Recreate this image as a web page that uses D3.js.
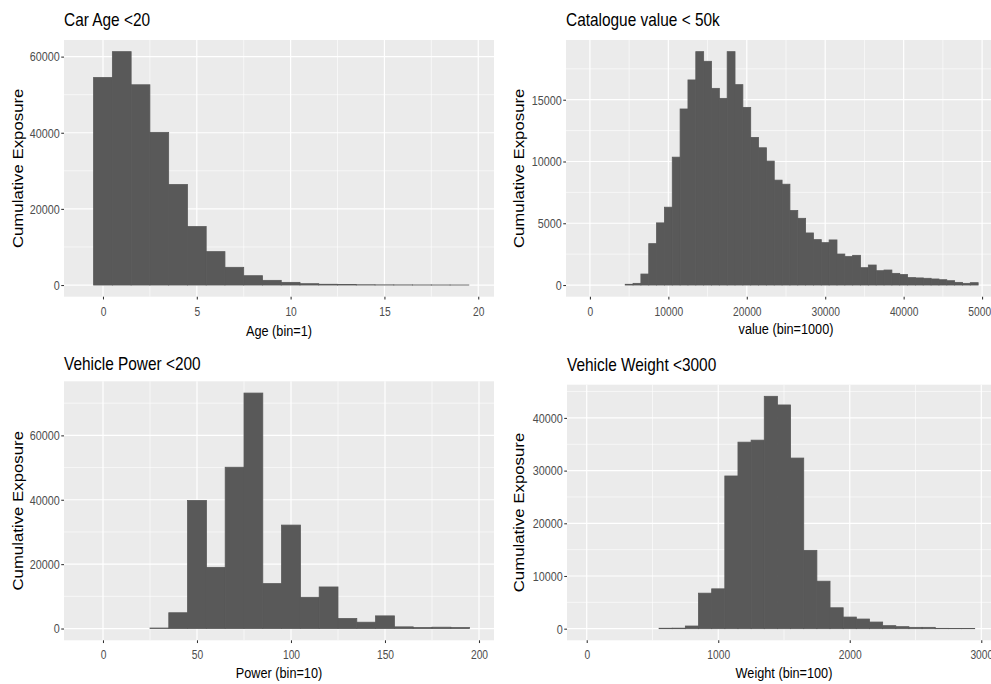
<!DOCTYPE html>
<html>
<head>
<meta charset="utf-8">
<script src="https://cdn.jsdelivr.net/npm/d3@7"></script>
<style>
  html, body { margin: 0; padding: 0; background: #fff; }
  svg { display: block; font-family: "Liberation Sans", Arial, Helvetica, sans-serif; }
</style>
</head>
<body>
<svg id="chart" width="991" height="684"></svg>
<script>
// Exposure histograms for four vehicle attributes (bins given by their centres)

const ageBins = d3.range(0, 20);
const ageExposure = [54500, 61300, 52600, 40100, 26400, 15350, 8770, 4650, 2450, 1230,
                     700, 350, 200, 120, 70, 40, 30, 20, 15, 10];
const ageTicks = [0, 5, 10, 15, 20];

const valueBins = d3.range(5000, 50000, 1000);
const valueExposure = [60, 135, 890, 3350, 5030, 6300, 10350, 14250, 16600, 18890,
                       18110, 15920, 15110, 18890, 16220, 14380, 11950, 11110, 10030, 8490,
                       8160, 6030, 5400, 4215, 3675, 3430, 3650, 2510, 2300, 2405,
                       1405, 1620, 1160, 1215, 945, 850, 600, 575, 545, 490,
                       430, 350, 215, 135, 190];
const valueTicks = [0, 10000, 20000, 30000, 40000, 50000];

const powerBins = d3.range(30, 200, 10);
const powerExposure = [150, 4900, 39770, 19000, 50100, 73140, 13950, 32130, 9710, 12910,
                       3100, 1960, 3925, 515, 310, 410, 310];
const powerTicks = [0, 50, 100, 150, 200];

const weightBins = d3.range(600, 3000, 100);
const weightExposure = [80, 100, 504, 6740, 7560, 28980, 35400, 35780, 44100, 42460,
                        32380, 14870, 9010, 3970, 2205, 1830, 1260, 570, 380, 250,
                        250, 60, 40, 30];
const weightTicks = [0, 1000, 2000, 3000];

const svg = d3.select("#chart");

const PANEL_BG = "#EBEBEB";
const BAR_FILL = "#595959";
const TICK_TXT = "#4D4D4D";
const SQUEEZE = 0.82;

function drawPanel(p) {
  const x = d3.scaleLinear().domain(p.xDomain).range([p.left, p.right]);
  const ymax = d3.max(p.values);
  const y = d3.scaleLinear().domain([-0.05 * ymax, 1.05 * ymax]).range([p.bottom, p.top]);

  const g = svg.append("g");

  g.append("rect")
    .attr("x", p.left).attr("y", p.top)
    .attr("width", p.right - p.left).attr("height", p.bottom - p.top)
    .attr("fill", PANEL_BG);

  // minor grid
  g.selectAll(null).data(p.xMinor).join("line")
    .attr("x1", d => x(d)).attr("x2", d => x(d))
    .attr("y1", p.top).attr("y2", p.bottom)
    .attr("stroke", "#fff").attr("stroke-width", 0.6);
  g.selectAll(null).data(p.yMinor).join("line")
    .attr("x1", p.left).attr("x2", p.right)
    .attr("y1", d => y(d)).attr("y2", d => y(d))
    .attr("stroke", "#fff").attr("stroke-width", 0.6);
  // major grid
  g.selectAll(null).data(p.xTicks).join("line")
    .attr("x1", d => x(d)).attr("x2", d => x(d))
    .attr("y1", p.top).attr("y2", p.bottom)
    .attr("stroke", "#fff").attr("stroke-width", 1.2);
  g.selectAll(null).data(p.yTicks).join("line")
    .attr("x1", p.left).attr("x2", p.right)
    .attr("y1", d => y(d)).attr("y2", d => y(d))
    .attr("stroke", "#fff").attr("stroke-width", 1.2);

  // bars (a thin stroke of the fill colour hides seams between neighbours)
  const hw = p.binWidth / 2;
  g.selectAll(null).data(p.bins.map((b, i) => ({ b, v: p.values[i] }))).join("rect")
    .attr("x", d => x(d.b - hw))
    .attr("width", d => x(d.b + hw) - x(d.b - hw))
    .attr("y", d => y(d.v))
    .attr("height", d => y(0) - y(d.v))
    .attr("fill", BAR_FILL)
    .attr("stroke", BAR_FILL).attr("stroke-width", 0.8);

  // x axis
  const xa = g.append("g").attr("transform", `translate(0,${p.bottom})`)
    .call(d3.axisBottom(x).tickValues(p.xTicks).tickFormat(d3.format("d")).tickSize(2.75).tickPadding(2));
  xa.select(".domain").remove();
  xa.selectAll(".tick line").attr("stroke", "#333").attr("stroke-width", 1.07);
  xa.selectAll(".tick text")
    .attr("y", 19).attr("dy", null)
    .attr("transform", `scale(${SQUEEZE},1)`)
    .attr("fill", TICK_TXT).style("font-size", "12.5px").style("font-family", "Liberation Sans, Arial, sans-serif");

  // y axis
  const ya = g.append("g").attr("transform", `translate(${p.left},0)`)
    .call(d3.axisLeft(y).tickValues(p.yTicks).tickFormat(d3.format("d")).tickSize(2.75).tickPadding(2));
  ya.select(".domain").remove();
  ya.selectAll(".tick line").attr("stroke", "#333").attr("stroke-width", 1.07);
  ya.selectAll(".tick text")
    .attr("x", -4.2 / 0.9).attr("dy", "0.36em")
    .attr("transform", "scale(0.9,1)")
    .attr("fill", TICK_TXT).style("font-size", "12px").style("font-family", "Liberation Sans, Arial, sans-serif");

  // titles
  g.append("text")
    .attr("transform", `translate(${p.left},${p.titleY}) scale(${SQUEEZE},1)`)
    .style("font-size", "18.8px").attr("fill", "#000")
    .text(p.title);

  g.append("text")
    .attr("transform", `translate(${(p.left + p.right) / 2},${p.xTitleY}) scale(${SQUEEZE},1)`)
    .attr("text-anchor", "middle")
    .style("font-size", "15.5px").attr("fill", "#000")
    .text(p.xTitle);

  g.append("text")
    .attr("transform", `translate(${p.yTitleX},${(p.top + p.bottom) / 2}) scale(0.85,1) rotate(-90)`)
    .attr("text-anchor", "middle")
    .style("font-size", "16.8px").attr("fill", "#000")
    .text("Cumulative Exposure");
}

drawPanel({
  left: 64, right: 494, top: 40, bottom: 296.7,
  xDomain: [-2.078, 20.84], bins: ageBins, values: ageExposure, binWidth: 1,
  xTicks: ageTicks, xMinor: [2.5, 7.5, 12.5, 17.5],
  yTicks: [0, 20000, 40000, 60000], yMinor: [10000, 30000, 50000],
  title: "Car Age <20", titleY: 26, xTitle: "Age (bin=1)", xTitleY: 336, yTitleX: 23
});

drawPanel({
  left: 566, right: 1006, top: 40, bottom: 296.7,
  xDomain: [-3050, 53050], bins: valueBins, values: valueExposure, binWidth: 1000,
  xTicks: valueTicks, xMinor: [5000, 15000, 25000, 35000, 45000],
  yTicks: [0, 5000, 10000, 15000], yMinor: [2500, 7500, 12500, 17500],
  title: "Catalogue value < 50k", titleY: 26, xTitle: "value (bin=1000)", xTitleY: 334, yTitleX: 524
});

drawPanel({
  left: 64, right: 494, top: 381.3, bottom: 640.3,
  xDomain: [-20.74, 207.98], bins: powerBins, values: powerExposure, binWidth: 10,
  xTicks: powerTicks, xMinor: [25, 75, 125, 175],
  yTicks: [0, 20000, 40000, 60000], yMinor: [10000, 30000, 50000, 70000],
  title: "Vehicle Power <200", titleY: 370, xTitle: "Power (bin=10)", xTitleY: 678, yTitleX: 23
});

drawPanel({
  left: 567, right: 1001, top: 384.7, bottom: 640.3,
  xDomain: [-150, 3150], bins: weightBins, values: weightExposure, binWidth: 100,
  xTicks: weightTicks, xMinor: [500, 1500, 2500],
  yTicks: [0, 10000, 20000, 30000, 40000], yMinor: [5000, 15000, 25000, 35000, 45000],
  title: "Vehicle Weight <3000", titleY: 371, xTitle: "Weight (bin=100)", xTitleY: 678, yTitleX: 524
});
</script>
</body>
</html>
